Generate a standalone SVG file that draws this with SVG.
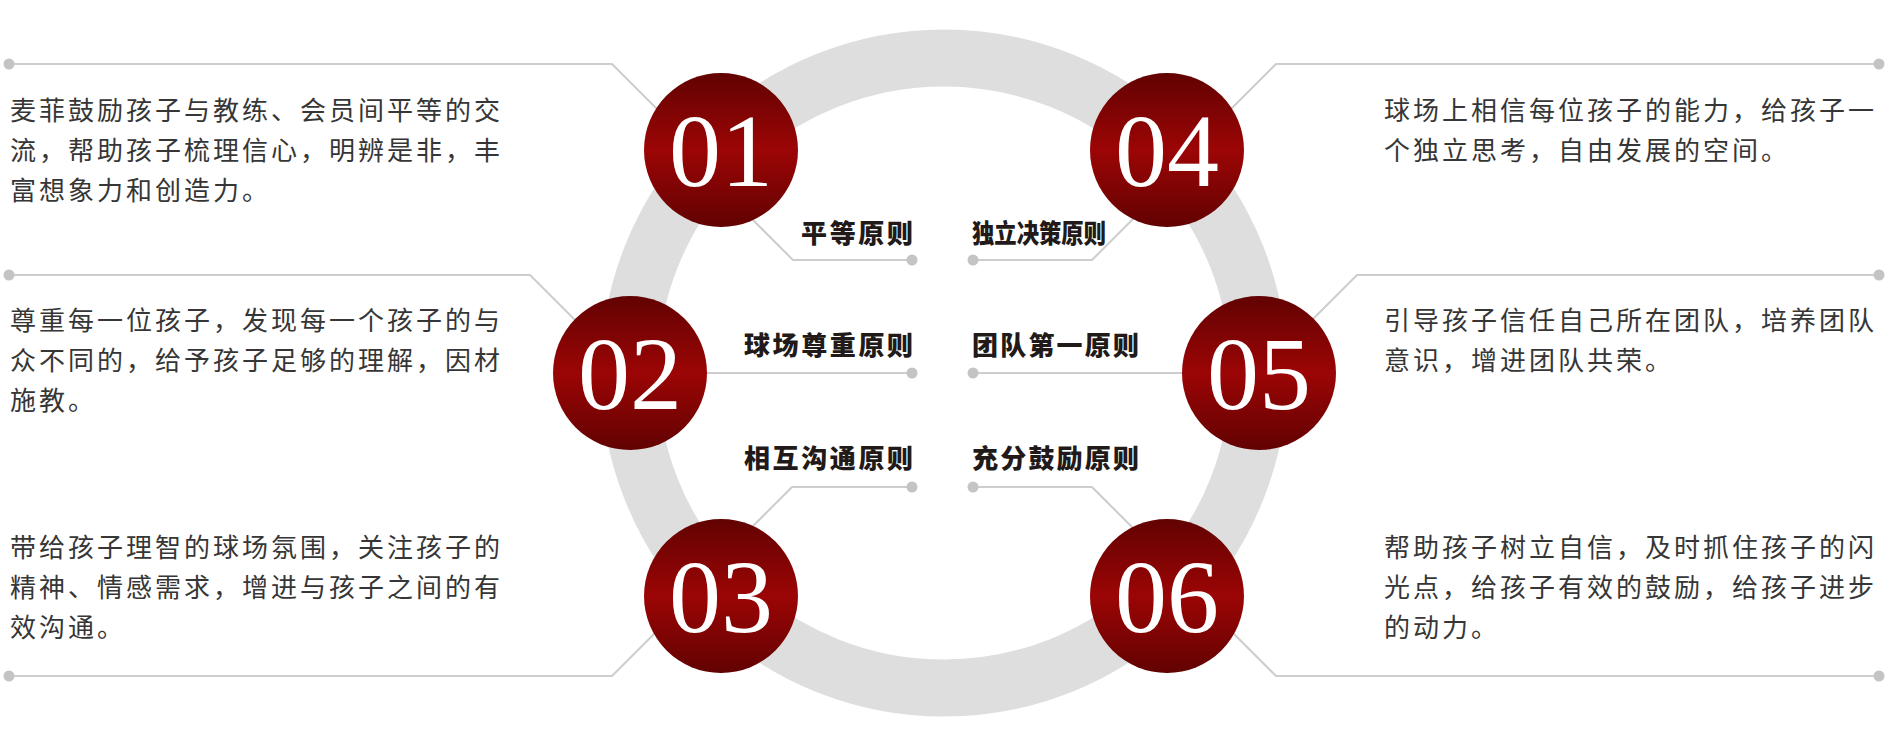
<svg xmlns="http://www.w3.org/2000/svg" width="1888" height="737" viewBox="0 0 1888 737">
<defs>
<linearGradient id="redg" x1="0" y1="0" x2="0" y2="1">
<stop offset="0" stop-color="#620202"/>
<stop offset="0.5" stop-color="#9c0505"/>
<stop offset="1" stop-color="#620202"/>
</linearGradient>
<style>
.ln{fill:none;stroke:#cdcdcd;stroke-width:2}
.dot{fill:#c4c4c4}
.ball{fill:url(#redg)}
.num{font-family:"Liberation Serif","Times New Roman",serif;font-size:104px;fill:#ffffff;text-anchor:middle}
.lab{font-family:"Noto Sans CJK SC",sans-serif;font-size:26px;font-weight:900;fill:#221a18}
.desc{font-family:"Noto Sans CJK SC",sans-serif;font-size:26px;letter-spacing:3px;fill:#363636}
</style>
</defs>
<rect width="1888" height="737" fill="#ffffff"/>
<circle id="ring" cx="944" cy="373" r="315" fill="none" stroke="#dedede" stroke-width="57"/>
<g id="connectors">
<polyline class="ln" points="9,64 612,64 680,132"/>
<polyline class="ln" points="912,260 793,260 740,207"/>
<polyline class="ln" points="9,275 530,275 600,345"/>
<polyline class="ln" points="912,373 700,373"/>
<polyline class="ln" points="912,487 792,487 740,539"/>
<polyline class="ln" points="9,676 612,676 680,608"/>
<polyline class="ln" points="1879,64 1276,64 1208,132"/>
<polyline class="ln" points="973,260 1092,260 1148,204"/>
<polyline class="ln" points="1879,275 1357,275 1288,344"/>
<polyline class="ln" points="973,373 1190,373"/>
<polyline class="ln" points="973,487 1092,487 1148,543"/>
<polyline class="ln" points="1879,676 1276,676 1208,608"/>
<circle class="dot" cx="9" cy="64" r="5.5"/>
<circle class="dot" cx="9" cy="275" r="5.5"/>
<circle class="dot" cx="9" cy="676" r="5.5"/>
<circle class="dot" cx="1879" cy="64" r="5.5"/>
<circle class="dot" cx="1879" cy="275" r="5.5"/>
<circle class="dot" cx="1879" cy="676" r="5.5"/>
<circle class="dot" cx="912" cy="260" r="5.5"/>
<circle class="dot" cx="912" cy="373" r="5.5"/>
<circle class="dot" cx="912" cy="487" r="5.5"/>
<circle class="dot" cx="973" cy="260" r="5.5"/>
<circle class="dot" cx="973" cy="373" r="5.5"/>
<circle class="dot" cx="973" cy="487" r="5.5"/>
</g>
<g id="node01">
<circle class="ball" cx="721" cy="150" r="77"/>
<text class="num" x="721" y="186">01</text>
<text class="lab" x="801" y="243" textLength="112">平等原则</text>
<text class="desc" x="10" y="120">麦菲鼓励孩子与教练、会员间平等的交</text>
<text class="desc" x="10" y="160">流，帮助孩子梳理信心，明辨是非，丰</text>
<text class="desc" x="10" y="200">富想象力和创造力。</text>
</g>
<g id="node02">
<circle class="ball" cx="630" cy="373" r="77"/>
<text class="num" x="630" y="409">02</text>
<text class="lab" x="744" y="355" textLength="169">球场尊重原则</text>
<text class="desc" x="10" y="330">尊重每一位孩子，发现每一个孩子的与</text>
<text class="desc" x="10" y="370">众不同的，给予孩子足够的理解，因材</text>
<text class="desc" x="10" y="410">施教。</text>
</g>
<g id="node03">
<circle class="ball" cx="721" cy="596" r="77"/>
<text class="num" x="721" y="632">03</text>
<text class="lab" x="744" y="468" textLength="169">相互沟通原则</text>
<text class="desc" x="10" y="557">带给孩子理智的球场氛围，关注孩子的</text>
<text class="desc" x="10" y="597">精神、情感需求，增进与孩子之间的有</text>
<text class="desc" x="10" y="637">效沟通。</text>
</g>
<g id="node04">
<circle class="ball" cx="1167" cy="150" r="77"/>
<text class="num" x="1167" y="186">04</text>
<text class="lab" x="972" y="243" textLength="134" lengthAdjust="spacingAndGlyphs">独立决策原则</text>
<text class="desc" x="1384" y="120">球场上相信每位孩子的能力，给孩子一</text>
<text class="desc" x="1384" y="160">个独立思考，自由发展的空间。</text>
</g>
<g id="node05">
<circle class="ball" cx="1259" cy="373" r="77"/>
<text class="num" x="1259" y="409">05</text>
<text class="lab" x="972" y="355" textLength="167">团队第一原则</text>
<text class="desc" x="1384" y="330">引导孩子信任自己所在团队，培养团队</text>
<text class="desc" x="1384" y="370">意识，增进团队共荣。</text>
</g>
<g id="node06">
<circle class="ball" cx="1167" cy="596" r="77"/>
<text class="num" x="1167" y="632">06</text>
<text class="lab" x="972" y="468" textLength="167">充分鼓励原则</text>
<text class="desc" x="1384" y="557">帮助孩子树立自信，及时抓住孩子的闪</text>
<text class="desc" x="1384" y="597">光点，给孩子有效的鼓励，给孩子进步</text>
<text class="desc" x="1384" y="637">的动力。</text>
</g>
</svg>
